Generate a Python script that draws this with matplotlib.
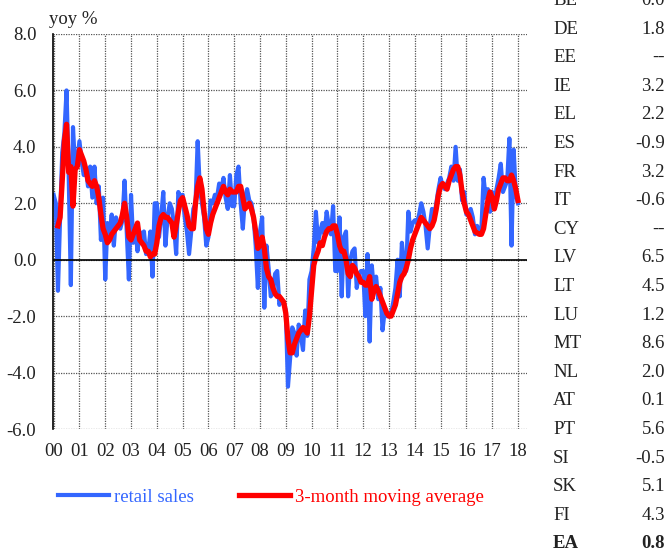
import numpy as np
import matplotlib.pyplot as plt
from matplotlib.lines import Line2D

plt.rcParams['font.family'] = 'Liberation Serif'

# monthly data, Jan 2000 .. Jan 2018 (yoy %)
retail_sales = [
    2.3, 2.0, -1.1, 1.5, 3.8, 4.5, 6.0, 3.0, -0.9, 4.7, 3.2, 3.5,     # 2000
    4.2, 3.5, 3.0, 3.2, 2.6, 3.3, 2.2, 3.3, 2.0, 2.6, 0.7, 2.2,       # 2001
    -0.7, 1.3, 0.8, 1.6, 0.5, 1.5, 1.2, 1.1, 1.4, 2.8, 1.0, -0.7,     # 2002
    2.3, 0.6, 1.2, 0.3, 1.0, 0.6, 1.0, 0.2, 0.3, 1.0, -0.6, 2.0,      # 2003
    2.0, 0.8, 1.5, 2.4, 0.5, 1.5, 2.0, 1.8, 1.2, 0.2, 2.4, 2.2,       # 2004
    2.3, 1.5, 1.0, 0.2, 1.0, 1.8, 2.0, 4.2, 2.5, 2.0, 1.5, 0.5,       # 2005
    0.8, 2.1, 2.0, 2.3, 2.2, 2.7, 2.5, 2.9, 2.2, 1.8, 3.0, 1.9,       # 2006
    1.9, 3.0, 3.3, 2.0, 1.1, 2.2, 2.5, 2.1, 2.0, 1.5, 0.5, -1.0,      # 2007
    1.0, 1.5, -1.7, 0.5, -0.3, -1.3, -1.2, -0.5, -0.4, -1.6, -1.4, -1.5,  # 2008
    -1.8, -4.5, -3.5, -2.4, -2.6, -3.4, -2.3, -2.7, -3.2, -1.8, -2.7, -0.7,  # 2009
    -0.4, 0.4, 1.7, 0.6, 1.0, 1.3, 0.9, 1.7, 1.2, 0.9, 1.9, -0.4,     # 2010
    -0.4, 1.5, -1.3, 0.8, 1.0, -1.3, 0.0, 0.3, 0.4, -1.0, -0.5, -0.4,  # 2011
    -0.4, -2.0, 0.2, -2.9, -0.2, -1.1, -0.6, -1.4, -1.0, -2.5, -1.8, -2.0,  # 2012
    -2.0, -1.9, -1.5, -1.0, 0.0, -1.3, 0.6, -0.2, -0.4, 1.7, 1.0, 1.3,  # 2013
    1.4, 1.3, 1.6, 2.0, 1.7, 1.2, 0.4, 1.2, 1.8, 1.5, 2.0, 2.5,       # 2014
    2.9, 2.6, 2.5, 2.7, 2.9, 3.3, 2.8, 4.0, 2.8, 3.2, 2.1, 2.4,       # 2015
    1.6, 1.7, 1.8, 1.5, 0.9, 1.2, 1.0, 1.1, 2.9, 2.2, 2.5, 1.7,       # 2016
    2.4, 1.9, 2.5, 2.9, 3.4, 2.4, 2.6, 2.8, 4.3, 0.5, 3.9, 2.3,       # 2017
    2.0,                                                             # 2018
]
moving_avg = [
    np.nan, np.nan, 1.2, 1.5, 2.8, 4.2, 4.8, 3.1, 3.3, 1.9, 3.2, 3.3,  # 2000
    3.9, 3.7, 3.5, 3.2, 2.8, 2.7, 2.6, 2.8, 2.6, 2.2, 1.6, 1.1,       # 2001
    0.9, 0.6, 0.7, 0.9, 1.0, 1.1, 1.2, 1.3, 1.6, 2.0, 1.5, 0.8,       # 2002
    0.7, 0.9, 1.1, 1.3, 0.7, 0.6, 0.5, 0.3, 0.3, 0.1, 0.2, 0.2,       # 2003
    0.6, 1.2, 1.5, 1.6, 1.5, 1.5, 1.4, 1.3, 0.8, 1.2, 1.7, 2.1,       # 2004
    2.2, 1.9, 1.6, 1.2, 1.1, 1.1, 2.0, 2.6, 2.9, 2.5, 1.7, 1.1,       # 2005
    0.9, 1.3, 1.6, 1.8, 2.0, 2.2, 2.4, 2.6, 2.4, 2.3, 2.5, 2.4,       # 2006
    2.4, 2.4, 2.6, 2.6, 2.2, 1.8, 1.9, 2.0, 1.8, 1.5, 1.0, 0.4,       # 2007
    0.5, 0.8, 0.4, -0.3, -0.6, -0.7, -1.0, -1.2, -1.3, -1.3, -1.4, -1.5,  # 2008
    -1.9, -2.8, -3.3, -3.3, -3.0, -2.8, -2.6, -2.5, -2.4, -2.5, -2.6, -2.0,  # 2009
    -1.1, -0.2, 0.1, 0.3, 0.6, 0.5, 0.8, 1.0, 1.1, 1.1, 1.2, 1.2,     # 2010
    0.9, 0.5, 0.3, 0.3, 0.0, -0.5, -0.6, -0.2, -0.3, -0.5, -0.6, -0.8,  # 2011
    -0.8, -0.9, -0.9, -0.6, -1.4, -1.1, -0.95, -1.1, -1.3, -1.5, -1.7, -1.9,  # 2012
    -2.0, -2.0, -1.8, -1.6, -1.2, -0.8, -0.6, -0.5, -0.3, 0.0, 0.4, 0.7,  # 2013
    0.9, 1.1, 1.3, 1.5, 1.4, 1.3, 1.2, 1.1, 1.2, 1.4, 1.8, 2.3,       # 2014
    2.6, 2.7, 2.6, 2.5, 2.8, 3.0, 3.2, 3.3, 3.3, 3.0, 2.4, 2.0,       # 2015
    1.7, 1.6, 1.4, 1.2, 1.0, 0.95, 0.9, 0.9, 1.1, 1.6, 2.1, 2.4,      # 2016
    2.2, 1.8, 2.1, 2.5, 2.7, 2.9, 2.9, 2.8, 2.8, 3.0, 2.8, 2.5,       # 2017
    2.1,                                                             # 2018
]
year_labels = ['00', '01', '02', '03', '04', '05', '06', '07', '08', '09',
               '10', '11', '12', '13', '14', '15', '16', '17', '18']
countries = ['BE', 'DE', 'EE', 'IE', 'EL', 'ES', 'FR', 'IT', 'CY', 'LV',
             'LT', 'LU', 'MT', 'NL', 'AT', 'PT', 'SI', 'SK', 'FI', 'EA']
country_values = ['0.0', '1.8', '--', '3.2', '2.2', '-0.9', '3.2', '-0.6', '--', '6.5',
                  '4.5', '1.2', '8.6', '2.0', '0.1', '5.6', '-0.5', '5.1', '4.3', '0.8']

W, H = 668, 553
fs = 13.5
txt = '#222222'
blue = '#3366ff'
red = '#ff0000'

fig = plt.figure(figsize=(W / 100, H / 100), dpi=100)
ax = fig.add_axes([53 / W, 1 - 429 / H, (527 - 53) / W, (429 - 34) / H])

x = np.arange(len(retail_sales))
ax.plot(x, retail_sales, color=blue, lw=3.0, solid_joinstyle='round')
ax.plot(x, moving_avg, color=red, lw=3.8, solid_joinstyle='round')

ax.set_xlim(-0.3, 220.2)
ax.set_ylim(-6, 8)
yt = np.arange(-6, 9, 2)
ax.set_yticks(yt)
ax.set_yticklabels(['%.1f' % v for v in yt])
ax.set_xticks(np.arange(0, 12 * len(year_labels), 12))
ax.set_xticklabels(year_labels)
ax.tick_params(length=0, labelsize=fs, labelcolor=txt)
ax.tick_params(axis='y', pad=12)
ax.tick_params(axis='x', pad=10)
ax.grid(True, ls=(0, (1, 1)), color='#555555', lw=0.9)
ax.axhline(0, color='black', lw=1.2)
for s in ['top', 'right', 'bottom']:
    ax.spines[s].set_visible(False)
ax.spines['left'].set_color('black')
ax.spines['left'].set_linewidth(1.2)

fig.text(49 / W, 1 - 20 / H, 'yoy %', fontsize=fs, color=txt, ha='left', va='center')

handles = [Line2D([], [], color=blue, lw=3.0), Line2D([], [], color=red, lw=3.8)]
fig.legend(handles, ['retail sales', '3-month moving average'], ncol=2,
           loc='center left', bbox_to_anchor=(58 / W, 1 - 497 / H), frameon=False,
           fontsize=fs, labelcolor='linecolor', handlelength=2.7, handletextpad=0.3,
           columnspacing=2.4, borderpad=0, borderaxespad=0)

for i, (c, v) in enumerate(zip(countries, country_values)):
    yy = 1 - (0.5 + i * 28.6) / H
    w = 'bold' if c == 'EA' else 'normal'
    fig.text(553 / W, yy, c, fontsize=fs, color=txt, ha='left', va='center', weight=w)
    fig.text(665 / W, yy, v, fontsize=fs, color=txt, ha='right', va='center', weight=w)

fig.savefig('out.png', dpi=100)
